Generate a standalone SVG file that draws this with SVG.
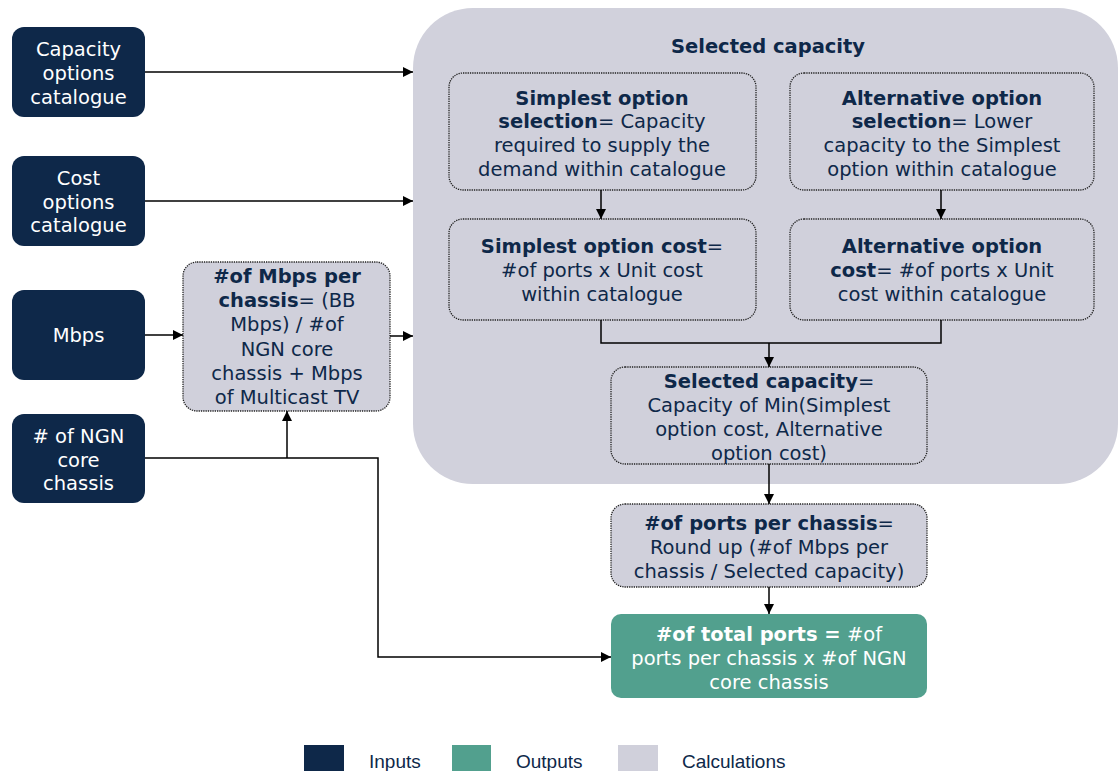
<svg xmlns="http://www.w3.org/2000/svg" width="1118" height="771" viewBox="0 0 1118 771">
<defs>
<marker id="arr" viewBox="0 0 10 10" refX="10" refY="5" markerWidth="10" markerHeight="10" markerUnits="userSpaceOnUse" orient="auto">
<path d="M0,0 L10,5 L0,10 z" fill="#000"/>
</marker>
<style>
.inp{fill:#0E2849}
.calc{fill:#D0D0DB;stroke:#222;stroke-width:1.3;stroke-dasharray:1.3 1}
.out{fill:#52A08E}
.t{font-family:"DejaVu Sans",Verdana,sans-serif;font-size:19.5px;text-anchor:middle}
.w{fill:#fff}
.n{fill:#0E2849}
.b{font-weight:bold}
.c{fill:none;stroke:#000;stroke-width:1.5}
.lg{font-family:"Liberation Sans",Arial,sans-serif;font-size:19px;fill:#0E2849}
</style>
</defs>
<rect width="1118" height="771" fill="#fff"/>

<g id="container">
<rect x="413" y="8" width="705" height="476" rx="60" fill="#D1D1DC"/>
<text class="t n b" x="768" y="53">Selected capacity</text>
</g>

<g id="cap-cat">
<rect class="inp" x="12" y="27" width="133" height="90" rx="12"/>
<text class="t w" x="78.5" y="56">Capacity</text>
<text class="t w" x="78.5" y="80">options</text>
<text class="t w" x="78.5" y="104">catalogue</text>
</g>

<g id="cost-cat">
<rect class="inp" x="12" y="156" width="133" height="90" rx="12"/>
<text class="t w" x="78.5" y="185">Cost</text>
<text class="t w" x="78.5" y="209">options</text>
<text class="t w" x="78.5" y="232">catalogue</text>
</g>

<g id="mbps">
<rect class="inp" x="12" y="290" width="133" height="90" rx="12"/>
<text class="t w" x="78.5" y="342">Mbps</text>
</g>

<g id="ngn">
<rect class="inp" x="12" y="414" width="133" height="89" rx="12"/>
<text class="t w" x="78.5" y="443"># of NGN</text>
<text class="t w" x="78.5" y="467">core</text>
<text class="t w" x="78.5" y="490">chassis</text>
</g>

<g id="mbps-per-chassis">
<rect class="calc" x="183" y="262" width="207" height="149" rx="14"/>
<text class="t n b" x="287" y="283">#of Mbps per</text>
<text class="t n" x="287" y="307"><tspan class="b">chassis</tspan>= (BB</text>
<text class="t n" x="287" y="331">Mbps) / #of</text>
<text class="t n" x="287" y="356">NGN core</text>
<text class="t n" x="287" y="380">chassis + Mbps</text>
<text class="t n" x="287" y="404">of Multicast TV</text>
</g>

<g id="simplest-sel">
<rect class="calc" x="449" y="73" width="307" height="117" rx="14"/>
<text class="t n b" x="602" y="105">Simplest option</text>
<text class="t n" x="602" y="128"><tspan class="b">selection</tspan>= Capacity</text>
<text class="t n" x="602" y="152">required to supply the</text>
<text class="t n" x="602" y="176">demand within catalogue</text>
</g>

<g id="alt-sel">
<rect class="calc" x="790" y="73" width="304" height="117" rx="14"/>
<text class="t n b" x="942" y="105">Alternative option</text>
<text class="t n" x="942" y="128"><tspan class="b">selection</tspan>= Lower</text>
<text class="t n" x="942" y="152">capacity to the Simplest</text>
<text class="t n" x="942" y="176">option within catalogue</text>
</g>

<g id="simplest-cost">
<rect class="calc" x="449" y="219" width="307" height="101" rx="14"/>
<text class="t n" x="602" y="253"><tspan class="b">Simplest option cost</tspan>=</text>
<text class="t n" x="602" y="277">#of ports x Unit cost</text>
<text class="t n" x="602" y="301">within catalogue</text>
</g>

<g id="alt-cost">
<rect class="calc" x="790" y="219" width="304" height="101" rx="14"/>
<text class="t n b" x="942" y="253">Alternative option</text>
<text class="t n" x="942" y="277"><tspan class="b">cost</tspan>= #of ports x Unit</text>
<text class="t n" x="942" y="301">cost within catalogue</text>
</g>

<g id="selected-cap">
<rect class="calc" x="611" y="367" width="316" height="97" rx="14"/>
<text class="t n" x="769" y="388"><tspan class="b">Selected capacity</tspan>=</text>
<text class="t n" x="769" y="412">Capacity of Min(Simplest</text>
<text class="t n" x="769" y="436">option cost, Alternative</text>
<text class="t n" x="769" y="460">option cost)</text>
</g>

<g id="ports-per-chassis">
<rect class="calc" x="611" y="504" width="316" height="83" rx="14"/>
<text class="t n" x="769" y="530"><tspan class="b">#of ports per chassis</tspan>=</text>
<text class="t n" x="769" y="554">Round up (#of Mbps per</text>
<text class="t n" x="769" y="578">chassis / Selected capacity)</text>
</g>

<g id="total-ports">
<rect class="out" x="611" y="614" width="316" height="84" rx="10"/>
<text class="t w" x="769" y="641"><tspan class="b">#of total ports =</tspan> #of</text>
<text class="t w" x="769" y="665">ports per chassis x #of NGN</text>
<text class="t w" x="769" y="689">core chassis</text>
</g>

<g id="connectors">
<path class="c" d="M145,72 H413" marker-end="url(#arr)"/>
<path class="c" d="M145,201 H413" marker-end="url(#arr)"/>
<path class="c" d="M145,335 H183" marker-end="url(#arr)"/>
<path class="c" d="M390,336 H413" marker-end="url(#arr)"/>
<path class="c" d="M145,458 H378 V657 H611" marker-end="url(#arr)"/>
<path class="c" d="M287,458 V411" marker-end="url(#arr)"/>
<path class="c" d="M601,190 V219" marker-end="url(#arr)"/>
<path class="c" d="M941,190 V219" marker-end="url(#arr)"/>
<path class="c" d="M601,320 V343 H941 V320"/>
<path class="c" d="M769,343 V367" marker-end="url(#arr)"/>
<path class="c" d="M769,464 V504" marker-end="url(#arr)"/>
<path class="c" d="M769,587 V614" marker-end="url(#arr)"/>
</g>

<g id="legend">
<rect x="304" y="745" width="40" height="26" fill="#0E2849"/>
<text class="lg" x="369" y="768">Inputs</text>
<rect x="452" y="745" width="39" height="26" fill="#52A08E"/>
<text class="lg" x="516" y="768">Outputs</text>
<rect x="618" y="745" width="40" height="26" fill="#D0D0DB"/>
<text class="lg" x="682" y="768">Calculations</text>
</g>
</svg>
